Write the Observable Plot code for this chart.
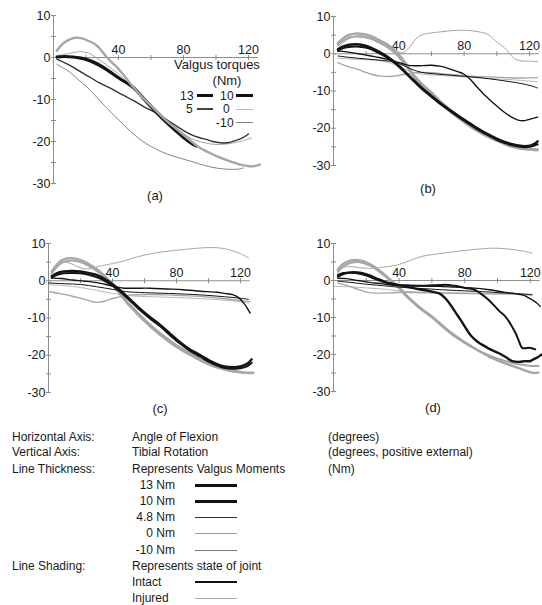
<!DOCTYPE html>
<html><head><meta charset="utf-8">
<script src="https://cdn.jsdelivr.net/npm/d3@7"></script>
<script src="https://cdn.jsdelivr.net/npm/@observablehq/plot@0.6"></script>
<style>
body{margin:0;background:#fff;}
#root{position:relative;width:542px;height:605px;overflow:hidden;font-family:"Liberation Sans",Arial,Helvetica,sans-serif;color:#1a1a1a;font-size:12px;}
.t{position:absolute;white-space:nowrap;line-height:15px;}
.sw{position:absolute;}
.pn{position:absolute;}
</style></head><body><div id="root"></div>
<script>
// ---- tick values ----
const yTicks = [-30,-25,-20,-15,-10,-5,0,5,10];
const yLabels = [-30,-20,-10,0,10];
const xTicks = [20,40,60,80,100,120];
const xLabels = [40,80,120];

// ---- series: [flexion angle (deg), tibial rotation (deg)] ----
// panel (a)
const a13int = [[2,0.2],[7,0.3],[12,0.2],[16,0],[20.5,-0.4],[26,-1.2],[31,-2.3],[36,-3.6],[41,-5],[45,-6],[49,-7],[54,-9],[59,-11.2],[65,-13.8],[70,-15.6],[75,-17.3],[80,-19],[84,-20.3],[88,-21.2]];
const a10int = [[2,0],[7,0.1],[12,0],[20,-0.6],[30,-2.4],[40,-5],[49,-7.3],[59,-11.5],[70,-15.8],[80,-19.2],[86,-20.8]];
const a13inj = [[2,1.6],[5,3],[8,3.9],[13,4.7],[17,4.6],[20,4.2],[24,3.5],[27,2.7],[30,1.4],[33,0],[36,-1.2],[40,-2.7],[44,-4.6],[49,-7],[54,-9.2],[59.5,-11.3],[65,-13.4],[70,-15.2],[75,-16.8],[80,-18.4],[85,-20],[90,-21.5],[95,-22.5],[100,-23.4],[105,-24.2],[111,-25],[115,-25.5],[119,-25.8],[123,-25.9],[127,-25.5]];
const a5int = [[2,-0.4],[7,-1.3],[12,-2.3],[17,-3.5],[22.5,-4.7],[28,-6],[35,-7.3],[42,-8.8],[49,-10.2],[56,-11.8],[63.6,-13.3],[70,-14.9],[76,-16.4],[80,-17.4],[85,-18.4],[90,-19.1],[94,-19.5],[98,-20],[102.6,-20.3],[107,-20.3],[111,-19.9],[116,-19.2],[120,-18.2]];
const a0inj = [[2,0.4],[6,0.7],[10,1],[14,1.3],[17,1.4],[20,1.2],[23,0.8],[26,0],[29,-0.8],[32,-1.6],[35,-2.5],[40,-3.9],[45,-5.7],[50,-7.6],[55,-9.3],[60,-11.1],[65,-13],[70,-14.9],[75,-16.6],[80,-18.1],[84,-19.1],[88,-19.8],[94,-20.4],[100,-20.7],[106,-20.6],[111,-20.3],[117,-19.8],[122,-19.1]];
const aM10int = [[2,-1.6],[6,-2.5],[10,-3.5],[15,-5.2],[20.5,-7],[26,-9.2],[31,-11.3],[36,-13.3],[41,-15.2],[46,-17.1],[51,-18.8],[57,-20.5],[63.6,-21.9],[70,-23],[80,-24.2],[87,-25],[94,-25.8],[100,-26.3],[107,-26.6],[113,-26.6],[117,-26.3]];
// panel (b)
const b13int = [[2.7,1.2],[6,2],[10.8,2.5],[16,2.5],[21,2],[26,1],[31,-0.2],[36,-1.7],[40.4,-3.3],[45,-5.3],[49.6,-7.3],[55,-9.5],[60,-11.3],[66,-13.4],[72,-15.3],[78,-17.1],[84,-18.8],[90,-20.5],[96.5,-22],[102,-23.2],[108.8,-24.2],[113,-24.6],[117,-24.8],[121,-24.6],[123,-24.2],[125,-23.5]];
const b10int = [[2.7,0.8],[6,1.5],[10.8,1.9],[16,1.9],[21,1.5],[26,0.6],[31,-0.6],[36,-2],[40.4,-3.6],[45,-5.6],[49.6,-7.6],[55,-9.8],[60,-11.6],[66,-13.7],[72,-15.6],[78,-17.4],[84,-19.1],[90,-20.8],[96.5,-22.3],[102,-23.5],[108.8,-24.5],[113,-24.9],[117,-25.1],[121,-24.9],[125,-24.3]];
const b48int = [[2.7,0.7],[8,0.5],[15,0],[23,-0.6],[28,-1],[33,-1.5],[37,-2],[40.4,-2.4],[44,-2.9],[47.5,-3.2],[54,-3.2],[60,-3.1],[66,-3.4],[72,-4.2],[76,-4.8],[80,-5.5],[84,-7],[88,-9],[93,-11.3],[98.6,-13.5],[104,-15.5],[109,-17],[113,-17.8],[116,-18],[120,-17.6],[125,-17]];
const b0int = [[2.7,-0.6],[10,-1],[20,-1.4],[30,-1.8],[38,-2.3],[43,-3.2],[48,-4.2],[54,-5],[62,-5.4],[70,-5.7],[84,-6.2],[95,-6.7],[105,-7.3],[115,-8],[121,-8.6],[125,-9.2]];
const b13inj = [[2.7,2.9],[7,4.5],[10,5.1],[13,5.4],[18,5.3],[23,4.7],[28,3.7],[33,2.5],[37,1.2],[40,-0.2],[45,-3],[49.6,-6],[55,-8.4],[60,-10.4],[66,-13],[72,-15.3],[78,-17.4],[84,-19.3],[90,-21],[96.5,-22.4],[103,-23.6],[109,-24.6],[114,-25.1],[119,-25.5],[125,-25.7]];
const b10inj = [[2.7,2.3],[7,3.8],[13,4.6],[18,4.5],[23,4],[28,3],[33,1.8],[37,0.5],[40,-0.9],[45,-3.6],[49.6,-6.5],[55,-8.9],[60,-10.9],[66,-13.4],[72,-15.7],[78,-17.8],[84,-19.7],[90,-21.3],[96.5,-22.8],[103,-24],[109,-25],[114,-25.5],[119,-25.8],[125,-26]];
const b48inj = [[2.7,-2.4],[6,-3],[10,-3.6],[15,-4.2],[19,-4.9],[23,-5.5],[29,-6],[35,-6.1],[40,-5.8],[43.5,-5.5],[48,-5.2],[53.7,-5],[60,-5.1],[70,-5.5],[84,-6],[95,-6.2],[105,-6.4],[115,-6.5],[125,-6.4]];
const b0inj = [[2.7,1.5],[6,3],[10,4.2],[14,4.8],[18,4.8],[22,4.5],[26,3.8],[30,2.9],[34,1.8],[37,0.8],[40,0.3],[43,0.4],[46,1.5],[49,3.2],[52,4.6],[56,5.3],[60,5.6],[66,5.9],[72,6.2],[78,6.3],[84,6.2],[90,5.8],[94.5,5.2],[98,4],[101,2.8],[104.7,1.6],[108,0],[111,-1.4],[115,-1.9],[120,-2],[125,-2.1]];
const bM10inj = [[2.7,-1.2],[10,-1.4],[20,-1.6],[30,-2],[37,-2.8],[43,-4],[48,-4.9],[55,-5.5],[65,-5.8],[80,-6.2],[95,-6.6],[110,-7],[125,-7.5]];
// panel (c)
const c13int = [[2,1.2],[5,2],[9.4,2.5],[15,2.6],[20,2.5],[25,2.1],[30,1.6],[35,0.5],[40.6,-1.1],[45,-2.6],[49,-4.2],[53,-5.8],[57,-7.4],[63,-9.6],[70,-11.9],[76,-14.2],[82,-16.4],[88,-18.3],[95,-20],[100,-21.3],[105,-22.3],[110,-23],[115.6,-23.2],[119,-23.1],[122,-22.7],[125,-22],[127,-21.1]];
const c10int = [[2,0.8],[5,1.5],[9.4,2],[15,2.1],[20,2],[25,1.6],[30,1],[35,0],[40.6,-1.5],[45,-3],[49,-4.6],[53,-6.2],[57,-7.8],[63,-10],[70,-12.3],[76,-14.6],[82,-16.8],[88,-18.7],[95,-20.4],[100,-21.7],[105,-22.7],[110,-23.4],[115.6,-23.6],[120,-23.5],[124,-23],[127,-22]];
const c48int = [[2,0.7],[8,0.6],[15,0.2],[22,-0.1],[30,-0.5],[36,-1],[40.6,-1.5],[44,-1.8],[47,-2],[55,-2],[63.5,-2],[74,-2.2],[84,-2.4],[95,-2.8],[105,-3.1],[110,-3.4],[115.6,-3.8],[119,-4.6],[122,-6],[124,-7.2],[126,-8.7]];
const c0int = [[0,-0.6],[10,-0.8],[20,-1],[30,-1.6],[40,-2.3],[48,-2.9],[60,-3.2],[75,-3.4],[95,-3.8],[110,-4.3],[120,-4.7],[125,-5]];
const c13inj = [[2,2.5],[5,4.2],[8,5.4],[11.5,6],[16,6],[22,5.2],[27,4],[32,2.5],[36,0.9],[40.6,-1.1],[45,-3.4],[49,-5.6],[54,-7.8],[59,-10],[65,-12.4],[74,-15.5],[80,-17.3],[86.5,-19],[93,-20.5],[99,-21.8],[105,-22.8],[111.5,-23.6],[116,-24.1],[120,-24.5],[124,-24.7],[128,-24.7]];
const c10inj = [[2,2],[5,3.6],[8,4.7],[11.5,5.3],[16,5.4],[22,4.7],[27,3.5],[32,2],[36,0.4],[40.6,-1.5],[45,-3.8],[49,-6],[54,-8.3],[59,-10.5],[65,-12.9],[74,-16],[80,-17.8],[86.5,-19.5],[93,-21],[99,-22.3],[105,-23.3],[111.5,-24],[116,-24.4],[120,-24.6],[124,-24.8],[128,-24.8]];
const c48inj = [[0,-2.9],[5,-3.3],[11.5,-3.8],[16,-4.3],[20,-4.7],[25,-5.3],[30,-5.8],[35,-5.5],[40.6,-4.7],[46,-4.2],[53,-3.8],[63,-3.7],[74,-3.8],[85,-4],[95,-4.2],[105,-4.6],[115.6,-5.1],[121,-5.4],[126,-5.6]];
const c0inj = [[2,2.8],[6,4.5],[10,5],[14,4.6],[18,3.8],[22,3.2],[27,3.3],[32,3.9],[40,4.6],[47,5.3],[53,6.1],[60,6.9],[67,7.5],[74,7.9],[85,8.4],[95,8.8],[101,8.9],[107,8.8],[112,8.4],[116,7.9],[120,7.3],[125,6.1]];
const cM10inj = [[0,-1.1],[10,-1.3],[20,-1.8],[30,-2.6],[40,-3.4],[50,-4],[65,-4.3],[80,-4.5],[100,-4.9],[115,-5.4],[125,-6]];
// panel (d)
const d13int = [[2.7,1.1],[6,1.8],[10.8,2.2],[16,2.1],[21,1.5],[26,0.6],[31,-0.3],[35,-0.8],[39.4,-1.2],[45,-1.7],[50,-2.2],[53.7,-2.5],[58,-2.8],[62,-3.2],[64,-3.4],[66,-3.9],[69,-5.2],[72,-7],[75,-9],[78,-11],[81,-13.1],[84,-15],[88,-16.6],[92.4,-17.8],[96,-18.7],[100.6,-19.6],[105,-20.7],[109,-21.8],[113,-22],[117,-21.8],[120,-21.8],[122,-21.3],[125,-20.6],[127,-20]];
const d10int = [[2.7,1.5],[6,2],[10.8,2.1],[16,1.8],[21,1.2],[26,0.3],[31,-0.5],[35,-0.9],[39.4,-1.2],[45,-1.3],[53.7,-1.4],[60,-1.3],[65,-1.2],[70,-1.2],[75,-1.5],[80,-2],[83,-2.2],[86,-2.5],[90,-3.6],[94.5,-5.2],[98,-6.8],[101,-8.2],[104.7,-9.7],[108,-11.8],[111,-14.2],[113,-16.3],[115,-18.2],[117,-18.3],[119,-18.2],[121,-18.3],[123,-18.6]];
const d48int = [[2.7,0.6],[8,0.5],[15,0],[22,-0.5],[30,-0.9],[37,-1.3],[43.5,-1.4],[54,-1.5],[64,-1.6],[74,-1.8],[84,-2],[95,-2.5],[104.7,-3.2],[110,-3.5],[115,-3.9],[118,-4.4],[121,-5.2],[124,-6.1],[126,-7]];
const d0int = [[2.7,-0.2],[10,-0.5],[20,-1],[30,-1.4],[40,-1.8],[55,-2.2],[70,-2.6],[90,-3],[110,-3.5],[121,-3.8]];
const d13inj = [[2.7,2.9],[6,4.5],[10.8,5.4],[15,5.5],[19,5.1],[24,4],[29,2.4],[34,0.5],[39.4,-1.6],[44,-3.8],[49.6,-6.1],[55,-8.1],[60,-9.7],[66,-12],[72,-14.2],[78,-16.1],[84,-17.8],[90,-19.4],[96.5,-20.9],[103,-22.1],[109,-23.1],[115,-24],[121,-24.9],[125,-24.9]];
const d10inj = [[2.7,2.3],[6,3.8],[10.8,4.8],[15,5],[19,4.6],[24,3.6],[29,2],[34,0.2],[39.4,-1.9],[44,-4.1],[49.6,-6.4],[55,-8.4],[60,-10],[66,-12.3],[72,-14.5],[78,-16.3],[84,-17.9],[90,-19.3],[96.5,-20.5],[103,-21.5],[109,-22.3],[115,-22.8],[121,-23.1],[125,-23.1]];
const d48inj = [[2.7,-0.7],[8,-1.3],[13,-2.1],[17,-2.7],[21,-3.2],[25,-3.4],[29,-3.4],[36,-3.3],[43.5,-3.2],[54,-3.3],[64,-3.4],[80,-3.5],[95,-3.6],[104.7,-3.6],[115,-3.8],[121,-3.9]];
const d0inj = [[2.7,2.5],[6,3.5],[10,3.8],[15,3.5],[20,3.3],[23,3.3],[30,3.6],[39,4.2],[46,5.3],[53.7,6.5],[62,7.1],[74,7.8],[84,8.3],[94.5,8.7],[101,8.7],[108.8,8.4],[115,8],[121,7.4]];
const dM10inj = [[0.6,-1.6],[10,-1.7],[20,-2],[30,-2.3],[40,-2.8],[55,-3.2],[80,-3.4],[100,-3.6],[121,-3.8]];

// ---- styles (not data) ----
const loadWidth = {"13": 2.4, "10": 2.0, "4.8": 1.4, "0": 1, "-10": 0.8};
const stateColor = {intact: "#141414", injured: "#a6a6a6"};
const axisColor = "#8c8c8c";

const panels = [
  {label:"(a)", ox:53, y10:15, y30:183, sx:1.625, lx:155, ly:195, series:[
    {d:a0inj,load:"0",state:"injured"},
    {d:aM10int,load:"-10",state:"intact",color:"#666"},{d:a5int,load:"4.8",state:"intact",color:"#333"},
    {d:a10int,load:"10",state:"intact"},{d:a13int,load:"13",state:"intact"},
    {d:a13inj,load:"13",state:"injured"}]},
  {label:"(b)", ox:333, y10:16, y30:165, sx:1.633, lx:428, ly:188, series:[
    {d:bM10inj,load:"-10",state:"injured"},{d:b0inj,load:"0",state:"injured"},{d:b48inj,load:"4.8",state:"injured"},
    {d:b10inj,load:"10",state:"injured"},{d:b13inj,load:"13",state:"injured"},
    {d:b0int,load:"0",state:"intact"},{d:b48int,load:"4.8",state:"intact"},{d:b10int,load:"10",state:"intact"},{d:b13int,load:"13",state:"intact"}]},
  {label:"(c)", ox:48, y10:243, y30:392, sx:1.6, lx:160, ly:408, series:[
    {d:cM10inj,load:"-10",state:"injured"},{d:c0inj,load:"0",state:"injured"},{d:c48inj,load:"4.8",state:"injured"},
    {d:c10inj,load:"10",state:"injured"},{d:c13inj,load:"13",state:"injured"},
    {d:c0int,load:"0",state:"intact"},{d:c48int,load:"4.8",state:"intact"},{d:c10int,load:"10",state:"intact"},{d:c13int,load:"13",state:"intact"}]},
  {label:"(d)", ox:333, y10:243, y30:391, sx:1.64, lx:433, ly:407, series:[
    {d:dM10inj,load:"-10",state:"injured"},{d:d0inj,load:"0",state:"injured"},{d:d48inj,load:"4.8",state:"injured"},
    {d:d10inj,load:"10",state:"injured"},{d:d13inj,load:"13",state:"injured"},
    {d:d0int,load:"0",state:"intact"},{d:d48int,load:"4.8",state:"intact"},{d:d10int,load:"10",state:"intact"},{d:d13int,load:"13",state:"intact"}]}
];

const hTick = {draw(ctx){ ctx.moveTo(-2.5,0); ctx.lineTo(2.5,0); }};
const vTick = {draw(ctx){ ctx.moveTo(0,-2.5); ctx.lineTo(0,2.5); }};

const root = document.getElementById("root");
const mL = 40, mT = 10;

function addText(txt, x, cy, opt = {}) {
  const el = document.createElement("div");
  el.className = "t";
  el.textContent = txt;
  const size = opt.size || 12;
  const lh = opt.lh || 15;
  el.style.fontSize = size + "px";
  el.style.lineHeight = lh + "px";
  if (opt.ls) el.style.letterSpacing = opt.ls + "px";
  el.style.top = (cy - lh / 2) + "px";
  if (opt.center) { el.style.left = x + "px"; el.style.transform = "translateX(-50%)"; }
  else if (opt.right) { el.style.right = (542 - x) + "px"; }
  else el.style.left = x + "px";
  root.appendChild(el);
}
function addSwatch(x1, x2, cy, w, color) {
  const el = document.createElement("div");
  el.className = "sw";
  el.style.left = x1 + "px";
  el.style.width = (x2 - x1) + "px";
  el.style.top = (cy - w / 2) + "px";
  el.style.height = w + "px";
  el.style.background = color;
  root.appendChild(el);
}

for (const p of panels) {
  const ph = p.y30 - p.y10;
  const pw = 130 * p.sx;
  const W = Math.ceil(mL + pw + 6), H = Math.ceil(mT + ph + 10);
  const chart = Plot.plot({
    width: W, height: H,
    marginLeft: mL, marginTop: mT, marginRight: W - mL - pw, marginBottom: H - mT - ph,
    x: {domain: [0, 130], range: [mL, mL + pw], axis: null},
    y: {domain: [-30, 10], range: [mT + ph, mT], axis: null},
    style: {fontFamily: '"Liberation Sans", Arial, Helvetica, sans-serif', fontSize: "12px", background: "transparent", overflow: "visible", color: "#1a1a1a"},
    marks: [
      Plot.ruleX([0], {y1: -30, y2: 10, stroke: axisColor, strokeWidth: 1}),
      Plot.ruleY([0], {x1: 0, x2: 126, stroke: axisColor, strokeWidth: 1}),
      Plot.dot(yTicks, {x: () => 0, y: d => d, symbol: hTick, stroke: axisColor, fill: "none", strokeWidth: 1}),
      Plot.dot(xTicks, {x: d => d, y: () => 0, symbol: vTick, stroke: axisColor, fill: "none", strokeWidth: 1}),
      Plot.text(yLabels, {x: () => 0, y: d => d, text: d => String(d), textAnchor: "end", dx: -3, fontSize: 12.5, fill: "#1a1a1a"}),
      Plot.text(xLabels, {x: d => d, y: () => 0, text: d => String(d), dy: -8, fontSize: 12.5, fill: "#1a1a1a"}),
      ...p.series.map(s => Plot.line(s.d, {x: d => d[0], y: d => d[1], stroke: s.color || stateColor[s.state], strokeWidth: loadWidth[s.load], curve: "catmull-rom", strokeLinejoin: "round", strokeLinecap: "round"}))
    ]
  });
  chart.classList.add("pn");
  chart.style.left = (p.ox - mL) + "px";
  chart.style.top = (p.y10 - mT) + "px";
  root.appendChild(chart);
  addText(p.label, p.lx, p.ly, {center: true, size: 13});
}

// inset key, panel (a)
const ins = {size: 12, lh: 12, ls: 0.3};
addText("Valgus torques", 217, 65, {center: true, size: 13, lh: 14});
addText("(Nm)", 227, 80.5, {center: true, size: 13, lh: 14});
addText("13", 194, 95.5, {right: true, ...ins});
addSwatch(197, 213, 95.5, 3, "#111");
addText("10", 234, 95.5, {right: true, ...ins});
addSwatch(236, 253, 95.5, 2.5, "#111");
addText("5", 193, 109, {right: true, ...ins});
addSwatch(197, 213, 109, 1.5, "#444");
addText("0", 230, 109, {right: true, ...ins});
addSwatch(236, 253, 109, 1, "#bbb");
addText("-10", 234, 122.5, {right: true, ...ins});
addSwatch(236, 253, 122.5, 1, "#888");

// bottom key
const keyRows = [
  ["Horizontal Axis:", "Angle of Flexion", "(degrees)"],
  ["Vertical Axis:", "Tibial Rotation", "(degrees, positive external)"],
  ["Line Thickness:", "Represents Valgus Moments", "(Nm)"]
];
const rowY = [437, 452.5, 469];
keyRows.forEach((r, i) => { addText(r[0], 12, rowY[i]); addText(r[1], 132, rowY[i]); addText(r[2], 328, rowY[i]); });
const momentLabels = ["13 Nm", "10 Nm", "4.8 Nm", "0 Nm", "-10 Nm"];
const momentY = [485, 501.5, 517.5, 533.5, 550];
const momentSw = [[3, "#111"], [2.6, "#111"], [1.6, "#333"], [1, "#999"], [1, "#777"]];
momentLabels.forEach((m, i) => { addText(m, 175, momentY[i], {right: true}); addSwatch(195, 237, momentY[i], momentSw[i][0], momentSw[i][1]); });
addText("Line Shading:", 12, 566.5);
addText("Represents state of joint", 132, 566.5);
addText("Intact", 132, 582);
addSwatch(195, 237, 582, 2.6, "#111");
addText("Injured", 132, 598.5);
addSwatch(195, 237, 598.5, 1.5, "#aaa");
</script></body></html>
